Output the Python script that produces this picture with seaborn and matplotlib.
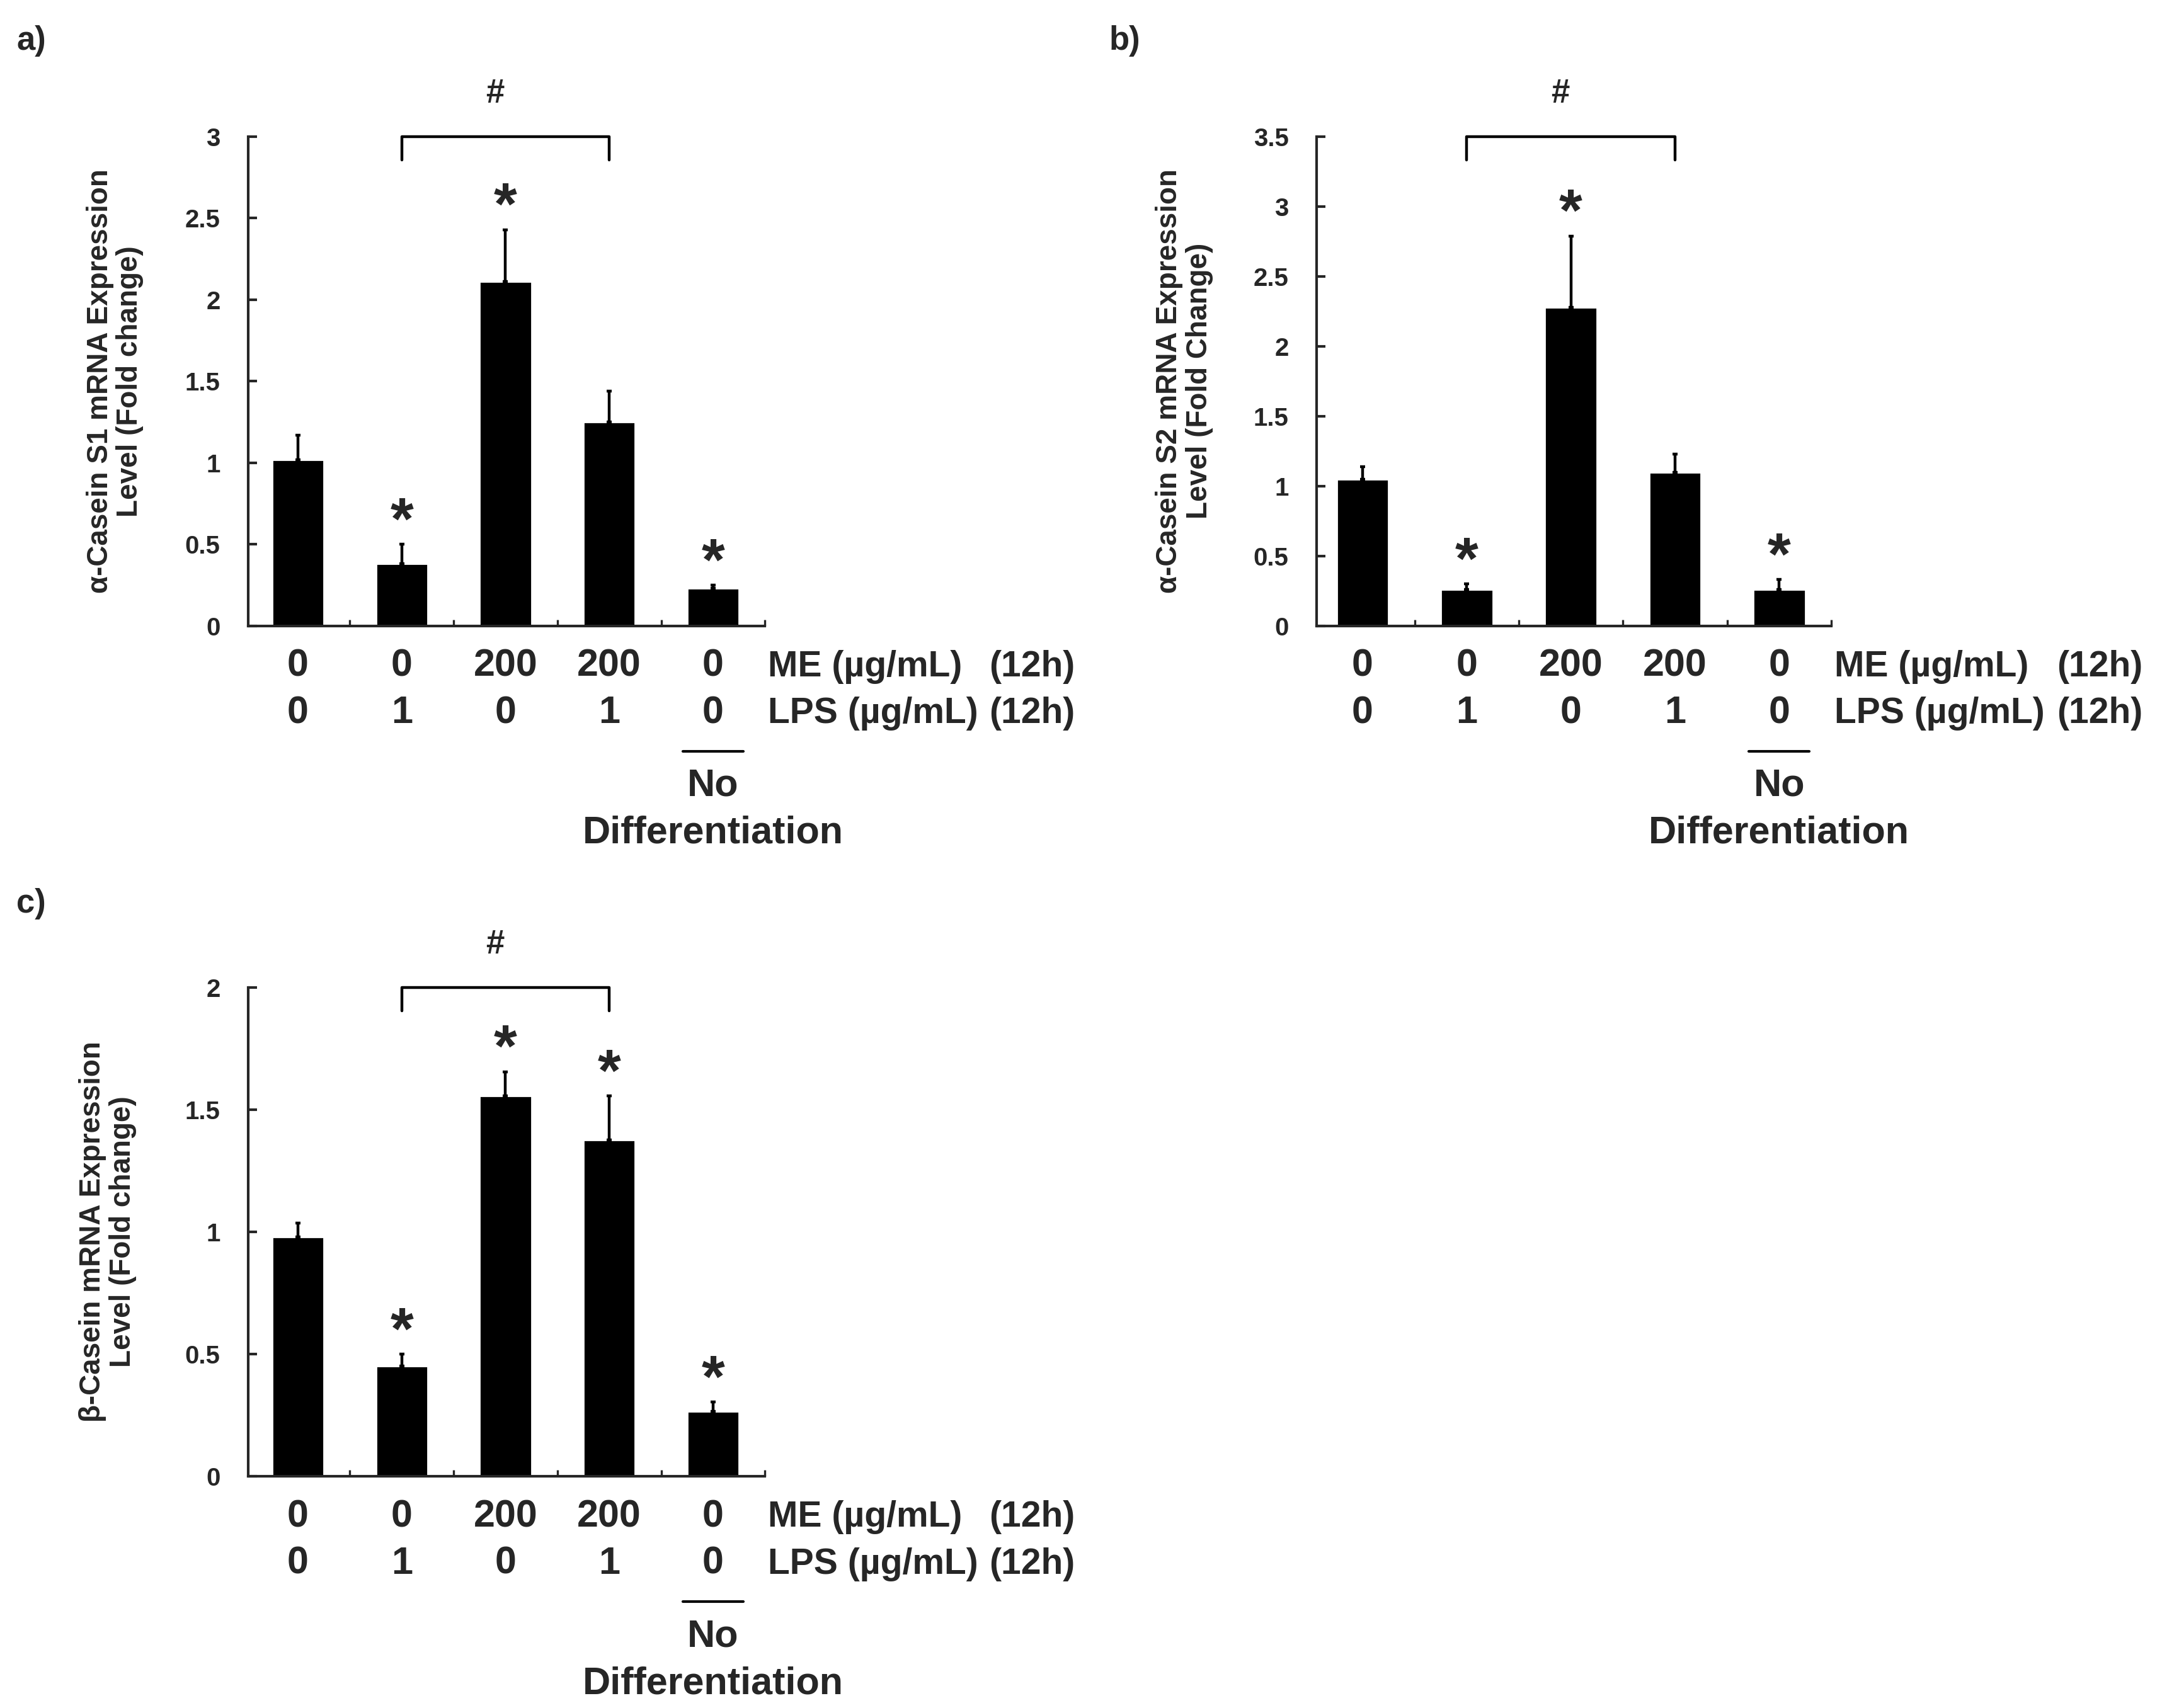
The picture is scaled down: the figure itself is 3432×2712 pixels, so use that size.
import numpy as np
import pandas as pd
import seaborn as sns
import matplotlib.pyplot as plt
from matplotlib.ticker import FixedLocator, FuncFormatter

# conditions (5 groups per panel)
conditions = ["Ctrl", "LPS", "ME", "ME+LPS", "NoDiff"]
me_labels = ["0", "0", "200", "200", "0"]
lps_labels = ["0", "1", "0", "1", "0"]

# a) alpha-casein S1
s1_mean = [1.02, 0.38, 2.11, 1.25, 0.23]
s1_err = [0.15, 0.12, 0.32, 0.19, 0.02]
s1_sig = [False, True, True, False, True]
s1_ticks = [0, 0.5, 1, 1.5, 2, 2.5, 3]

# b) alpha-casein S2
s2_mean = [1.05, 0.26, 2.28, 1.10, 0.26]
s2_err = [0.09, 0.04, 0.51, 0.13, 0.07]
s2_sig = [False, True, True, False, True]
s2_ticks = [0, 0.5, 1, 1.5, 2, 2.5, 3, 3.5]

# c) beta-casein
beta_mean = [0.98, 0.45, 1.555, 1.375, 0.265]
beta_err = [0.055, 0.05, 0.10, 0.18, 0.04]
beta_sig = [False, True, True, True, True]
beta_ticks = [0, 0.5, 1, 1.5, 2]

sns.set_style("ticks")
plt.rcParams["font.family"] = ["Liberation Sans", "DejaVu Sans"]
plt.rcParams["font.weight"] = "bold"

fig = plt.figure(figsize=(17.16, 13.56), dpi=200)

panels = [
    ("a)", (0.0076, 0.976), [0.1148, 0.6336, 0.2390, 0.2864], s1_mean, s1_err, s1_sig, s1_ticks,
     "α-Casein S1 mRNA Expression\nLevel (Fold change)", -0.48, -0.258),
    ("b)", (0.513, 0.976), [0.6090, 0.6336, 0.2380, 0.2864], s2_mean, s2_err, s2_sig, s2_ticks,
     "α-Casein S2 mRNA Expression\nLevel (Fold Change)", -0.44, -0.257),
    ("c)", (0.0076, 0.471), [0.1148, 0.1356, 0.2390, 0.2864], beta_mean, beta_err, beta_sig, beta_ticks,
     "β-Casein mRNA Expression\nLevel (Fold change)", -0.48, -0.272),
]

for tag, tagpos, rect, mean, err, sig, ticks, ylab, xleft, ylab_x in panels:
    ax = fig.add_axes(rect)
    df = pd.DataFrame({"cond": conditions, "val": mean})
    sns.barplot(data=df, x="cond", y="val", color="black", width=0.5,
                errorbar=None, saturation=1, ax=ax)
    xs = np.arange(len(conditions))
    ax.errorbar(xs, mean, yerr=[np.zeros(len(mean)), err], fmt="none",
                ecolor="black", elinewidth=1.6, capsize=1.5, capthick=1.6, zorder=3)

    ax.set_xlim(xleft, 4.5)
    ax.set_ylim(0, ticks[-1])
    sns.despine(ax=ax)
    for sp in ["left", "bottom"]:
        ax.spines[sp].set_linewidth(1.5)

    ax.yaxis.set_major_locator(FixedLocator(ticks))
    ax.yaxis.set_major_formatter(FuncFormatter(lambda v, p: f"{v:g}"))
    ax.tick_params(axis="y", direction="in", length=5, width=1.5, pad=16,
                   labelsize=14.5)

    ax.set_xticks(xs)
    ax.set_xticklabels([])
    ax.tick_params(axis="x", which="major", length=0)
    ax.xaxis.set_minor_locator(FixedLocator(xs + 0.5))
    ax.tick_params(axis="x", which="minor", direction="in", length=3.5, width=1.2)
    ax.set_xlabel("")

    ax.set_ylabel(ylab, fontsize=16.5, fontweight="bold", linespacing=1.1)
    ax.yaxis.label.set_va("center")
    ax.yaxis.set_label_coords(ylab_x, 0.5)

    tr = ax.get_xaxis_transform()

    # significance stars
    for i, s in enumerate(sig):
        if s:
            ax.annotate("*", xy=(i, mean[i] + err[i]), xytext=(0, 3),
                        textcoords="offset points", ha="center", va="baseline",
                        fontsize=34, fontweight="bold")

    # bracket with #
    ax.plot([1, 1, 3, 3], [0.952, 1.0, 1.0, 0.952], transform=tr,
            color="black", lw=1.6, clip_on=False)
    ax.text(1.9, 1.087, "#", transform=tr, ha="center", va="center",
            fontsize=19, fontweight="bold")

    # condition rows under the axis
    for i in xs:
        ax.text(i, -0.103, me_labels[i], transform=tr, ha="center", va="baseline",
                fontsize=22, fontweight="bold")
        ax.text(i, -0.199, lps_labels[i], transform=tr, ha="center", va="baseline",
                fontsize=22, fontweight="bold")
    ax.text(4.53, -0.103, "ME (µg/mL)", transform=tr, ha="left", va="baseline",
            fontsize=20.5, fontweight="bold")
    ax.text(7.49, -0.103, "(12h)", transform=tr, ha="right", va="baseline",
            fontsize=20.5, fontweight="bold")
    ax.text(4.53, -0.199, "LPS (µg/mL)", transform=tr, ha="left", va="baseline",
            fontsize=20.5, fontweight="bold")
    ax.text(7.49, -0.199, "(12h)", transform=tr, ha="right", va="baseline",
            fontsize=20.5, fontweight="bold")

    ax.plot([3.71, 4.29], [-0.256, -0.256], transform=tr, color="black",
            lw=1.5, clip_on=False)
    ax.text(4, -0.348, "No", transform=tr, ha="center", va="baseline",
            fontsize=22, fontweight="bold")
    ax.text(4, -0.444, "Differentiation", transform=tr, ha="center", va="baseline",
            fontsize=22, fontweight="bold")

    fig.text(tagpos[0], tagpos[1], tag, ha="left", va="center", fontsize=19,
             fontweight="bold")

fig.savefig("out.png", dpi=200, facecolor="white")
